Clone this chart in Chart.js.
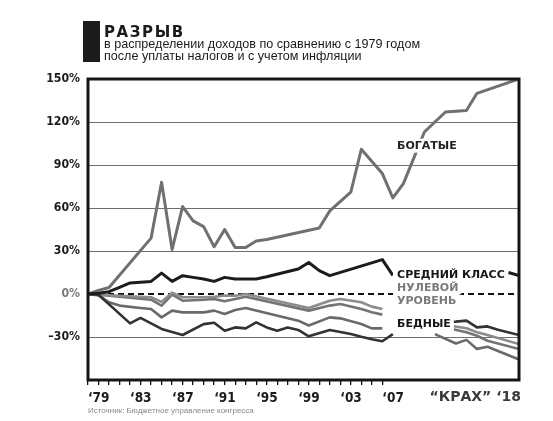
<!DOCTYPE html>
<html><head><meta charset="utf-8">
<script src="https://cdn.jsdelivr.net/npm/chart.js"></script>
<style>
html,body{margin:0;padding:0;background:#fff;width:553px;height:421px;overflow:hidden;}
#wrap{position:relative;width:553px;height:421px;}
canvas{position:absolute;left:0;top:0;}
.t{position:absolute;white-space:nowrap;}
</style></head><body>
<div id="wrap">
<canvas id="c" width="553" height="421"></canvas>
<div class="t" style="left:83px;top:21px;width:17px;height:41px;background:#1b1b1b"></div>
<div class="t" style="left:104px;top:24px;font:bold 15px 'DejaVu Sans';letter-spacing:1.6px;color:#1b1b1b;line-height:16px">РАЗРЫВ</div>
<div class="t" style="left:104px;top:39px;font:12.6px 'Liberation Sans';line-height:11.5px;color:#1b1b1b">в распределении доходов по сравнению с 1979 годом<br>после уплаты налогов и с учетом инфляции</div>
<div class="t" style="left:88px;top:406px;font:8px 'Liberation Sans';color:#888">Источник: Бюджетное управление конгресса</div>
<div class="t" style="right:32px;top:388px;font:bold 14px 'DejaVu Sans';color:#3a3a3a">“КРАХ” ‘18</div>
</div>
<script>
// ---- data (percent change vs 1979) ----
const richYears   = [1979,1980,1981,1985,1986,1987,1988,1989,1990,1991,1992,1993,1994,1995,1996,2001,2002,2004,2005,2007,2008,2009,2010,2011,2013,2015,2016,2020];
const richValues  = [0,2.5,4.5,39,78,31,61,51,47,33,45,32.5,32.5,37,38,46,58,71,101,84,67,77,95,113,127,128,140,150];

const middleYears  = [1979,1980,1981,1982,1983,1985,1986,1987,1988,1989,1990,1991,1992,1993,1994,1995,1996,1999,2000,2001,2002,2007,2008,2010,2019,2020];
const middleValues = [0,0.5,1.6,4.6,7.7,8.8,14.6,8.8,12.8,11.6,10.5,8.8,11.6,10.5,10.5,10.5,12,17.4,22,16.3,12.8,24,13,null,15,12.8];

const low1Years  = [1979,1980,1985,1986,1987,1988,1990,1991,1992,1993,1994,2000,2002,2003,2005,2006,2007,2010,2012,2013,2015,2016,2017,2020];
const low1Values = [0,-0.5,-2.3,-5.5,1,-2.3,-2.3,-2,-1,-1.2,0,-9.8,-4.7,-3.5,-5.8,-8.8,-10.5,null,-21.6,-21.6,-23.9,-26.7,-28.6,-34.9];

const low2Years  = [1979,1980,1985,1986,1987,1988,1990,1991,1992,1993,1994,2000,2002,2003,2005,2006,2007,2010,2012,2013,2015,2016,2017,2020];
const low2Values = [0,-0.5,-4,-8.1,-0.5,-4.7,-4,-3.5,-5.1,-3.5,-1.9,-11.6,-8.1,-7,-10.5,-12.8,-14.4,null,-23,-23.3,-26.7,-29.1,-32.6,-38.4];

const low3Years  = [1979,1980,1981,1982,1984,1985,1986,1987,1988,1990,1991,1992,1993,1994,1999,2000,2002,2003,2005,2006,2007,2010,2012,2014,2015,2016,2017,2020];
const low3Values = [0,-1,-5.8,-8.1,-9.8,-10.5,-16.3,-11.6,-12.8,-12.8,-11.6,-14,-11.2,-9.8,-18.6,-22,-16.3,-17,-20.9,-24,-24,null,-28,-34.5,-32,-38.3,-36.8,-45.7];

const poorYears  = [1979,1980,1983,1984,1986,1988,1990,1991,1992,1993,1994,1995,1996,1997,1998,1999,2000,2002,2004,2005,2006,2007,2008,2010,2012,2014,2015,2016,2017,2018,2020];
const poorValues = [0,-0.5,-20.5,-16.7,-24.4,-28.6,-21,-20,-25.6,-23.3,-24,-19.8,-23.3,-25.6,-23.3,-25.1,-29.5,-25.1,-27.9,-29.8,-31.5,-33,-28,null,-20,-19.3,-18.6,-23.3,-22.6,-25,-28.6];

const zeroYears  = [1979,2020];
const zeroValues = [0,0];

// ---- ticks ----
const xLabelYears = [1979,1983,1987,1991,1995,1999,2003,2007];
const xTickLabels = ["‘79","‘83","‘87","‘91","‘95","‘99","‘03","‘07"];
const xFirstTick = 1979, xLastTick = 2007;
const yTickValues = [-60,-30,0,30,60,90,120,150];
const yTickLabels = ["","–30%","0%","30%","60%","90%","120%","150%"];
const yGridValues = [-30,30,60,90,120];

// ---- inline labels ----
const seriesLabels = [
  {text:"БОГАТЫЕ", x:2008.4, y:103.5, color:"#222"},
  {text:"СРЕДНИЙ КЛАСС", x:2008.4, y:13.3, color:"#161616"},
  {text:"НУЛЕВОЙ", x:2008.4, y:4.7, color:"#7a7a7a"},
  {text:"УРОВЕНЬ", x:2008.4, y:-4.7, color:"#7a7a7a"},
  {text:"БЕДНЫЕ", x:2008.4, y:-20.9, color:"#161616"}
];

const pts = (xs, ys) => xs.map((x,i)=>({x:x, y:ys[i]}));
const yFont = {family:"'Liberation Sans Narrow','DejaVu Sans Condensed','Liberation Sans',sans-serif", weight:'bold', size:12.2};
const xFont = {family:"'Liberation Sans Narrow','DejaVu Sans Condensed','Liberation Sans',sans-serif", weight:'bold', size:13.5};

const framePlugin = {
  id:'frame',
  afterDatasetsDraw(chart){
    const {ctx, chartArea:a} = chart;
    ctx.save();
    ctx.strokeStyle = '#161616';
    ctx.lineWidth = 3;
    ctx.strokeRect(a.left, a.top, a.right-a.left, a.bottom-a.top);
    ctx.restore();
  }
};

const labelPlugin = {
  id:'seriesLabels',
  afterDraw(chart){
    const {ctx} = chart;
    const xs = chart.scales.x, ys = chart.scales.y;
    ctx.save();
    ctx.font = "bold 11px 'DejaVu Sans'";
    ctx.textBaseline = 'middle';
    ctx.textAlign = 'left';
    seriesLabels.forEach(l=>{
      const px = xs.getPixelForValue(l.x), py = ys.getPixelForValue(l.y);
      const w = ctx.measureText(l.text).width;
      ctx.fillStyle = '#fff';
      ctx.fillRect(px-4, py-7, w+7, 14);
    });
    seriesLabels.forEach(l=>{
      const px = xs.getPixelForValue(l.x), py = ys.getPixelForValue(l.y);
      ctx.fillStyle = l.color;
      ctx.fillText(l.text, px, py+0.5);
    });
    ctx.restore();
  }
};

new Chart(document.getElementById('c'), {
  type:'line',
  data:{datasets:[
    {label:'Средний класс', data:pts(middleYears,middleValues), borderColor:'#1c1c1c', borderWidth:3, order:0},
    {label:'Богатые', data:pts(richYears,richValues), borderColor:'#707070', borderWidth:3, order:1},
    {label:'Бедные', data:pts(poorYears,poorValues), borderColor:'#333333', borderWidth:2.6, order:2},
    {label:'low1', data:pts(low1Years,low1Values), borderColor:'#8c8c8c', borderWidth:2.6, order:3},
    {label:'low2', data:pts(low2Years,low2Values), borderColor:'#747474', borderWidth:2.6, order:4},
    {label:'low3', data:pts(low3Years,low3Values), borderColor:'#6a6a6a', borderWidth:2.6, order:5},
    {label:'Нулевой уровень', data:pts(zeroYears,zeroValues), borderColor:'#111', borderWidth:2, borderDash:[6,4], order:10}
  ]},
  options:{
    responsive:false, animation:false, spanGaps:false,
    elements:{point:{radius:0}, line:{tension:0, borderCapStyle:'butt', borderJoinStyle:'round', fill:false}},
    layout:{padding:{left:0, top:79, right:34, bottom:12}},
    plugins:{legend:{display:false}, tooltip:{enabled:false}, title:{display:false}},
    scales:{
      x:{type:'linear', min:1979, max:2020,
        afterBuildTicks:s=>{ const t=[]; for(let v=xFirstTick; v<=xLastTick; v++) t.push({value:v}); s.ticks=t; },
        afterFit:s=>{ s.height = 29; },
        ticks:{autoSkip:false, maxRotation:0, align:'start', padding:5, color:'#1b1b1b', font:xFont,
          callback:v=>{ const i = xLabelYears.indexOf(v); return i>=0 ? xTickLabels[i] : ''; }},
        grid:{drawOnChartArea:false, drawTicks:true, tickLength:5, color:'#111', lineWidth:1.3},
        border:{display:false}
      },
      y:{min:-60, max:150,
        afterBuildTicks:s=>{ s.ticks = yTickValues.map(v=>({value:v})); },
        afterFit:s=>{ s.width = 88; },
        ticks:{padding:8, color:c=> c.tick && c.tick.value===0 ? '#7a7a7a' : '#1b1b1b', font:yFont,
          callback:v=>{ const i = yTickValues.indexOf(v); return i>=0 ? yTickLabels[i] : ''; }},
        grid:{drawTicks:false, lineWidth:1, color:c=> c.tick && yGridValues.includes(c.tick.value) ? '#6e6e6e' : 'rgba(0,0,0,0)'},
        border:{display:false}
      }
    }
  },
  plugins:[framePlugin, labelPlugin]
});
</script>
</body></html>
